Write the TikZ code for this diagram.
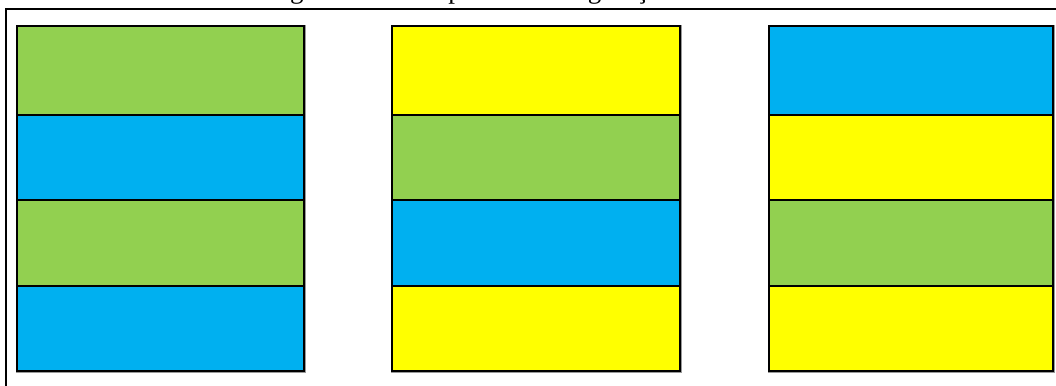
\documentclass[tikz,border=0pt]{standalone}
\usepackage{fontspec}
\setmainfont{Liberation Serif}
\definecolor{cgreen}{HTML}{92D050}
\definecolor{cblue}{HTML}{00B0F0}
\definecolor{cyellow}{HTML}{FFFF00}
\begin{document}
\begin{tikzpicture}[x=1pt,y=-1pt,
  band/.style={draw=black,line width=2pt},
  halo/.style={draw=black!40,line width=3.5pt},
  frameline/.style={draw=black,line width=2pt}]
\useasboundingbox (0,0) rectangle (1056,385);
\clip (0,0) rectangle (1056,385);
\node[anchor=base, font=\fontsize{27}{30}\selectfont, inner sep=0pt] (title) at (536.5,-1.5) {Figura 1 – Exemplos de configurações da camada};
\coordinate (fb) at (6,386);
\coordinate (fc) at (6,9);
\coordinate (fr) at (1057,9);
\draw[frameline] (fb) -- (fc) -- (fr);
\foreach \xa/\xb/\ca/\cb/\cc/\cd in {17/304/cgreen/cblue/cgreen/cblue, 392/680/cyellow/cgreen/cblue/cyellow, 769/1053/cblue/cyellow/cgreen/cyellow}{
  \draw[halo] (\xa+0.5,26.5) rectangle (\xb+0.5,371.5);
  \fill[fill=\ca] (\xa,26) rectangle (\xb,115);
  \fill[fill=\cb] (\xa,115) rectangle (\xb,200);
  \fill[fill=\cc] (\xa,200) rectangle (\xb,286);
  \fill[fill=\cd] (\xa,286) rectangle (\xb,371);
  \draw[band] (\xa,26) rectangle (\xb,115);
  \draw[band] (\xa,115) rectangle (\xb,200);
  \draw[band] (\xa,200) rectangle (\xb,286);
  \draw[band] (\xa,286) rectangle (\xb,371);
}
\end{tikzpicture}
\end{document}
